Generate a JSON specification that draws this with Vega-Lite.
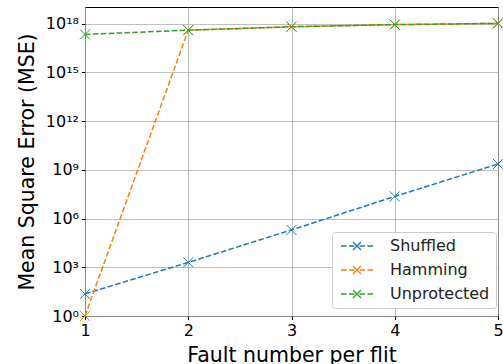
{
  "$schema": "https://vega.github.io/schema/vega-lite/v6.json",
  "width": 413,
  "height": 309,
  "autosize": {"type": "none"},
  "padding": {"left": 85, "top": 7, "right": 5, "bottom": 48},
  "background": "white",
  "config": {
    "font": "DejaVu Sans",
    "view": {"stroke": "black", "strokeWidth": 1},
    "axis": {
      "gridColor": "#b0b0b0",
      "gridWidth": 0.8,
      "domain": false,
      "tickColor": "black",
      "tickSize": 3.5,
      "labelColor": "black",
      "titleColor": "black",
      "labelFontSize": 16,
      "titleFontSize": 20.5,
      "titleFontWeight": "normal",
      "labelFont": "DejaVu Sans",
      "titleFont": "DejaVu Sans"
    }
  },
  "data": {
    "values": [
      {"x": 1, "y": 23, "s": "Shuffled"},
      {"x": 2, "y": 2000, "s": "Shuffled"},
      {"x": 3, "y": 200000, "s": "Shuffled"},
      {"x": 4, "y": 23000000, "s": "Shuffled"},
      {"x": 5, "y": 2300000000, "s": "Shuffled"},
      {"x": 1, "y": 1, "s": "Hamming"},
      {"x": 2, "y": 4e17, "s": "Hamming"},
      {"x": 3, "y": 6.5e17, "s": "Hamming"},
      {"x": 4, "y": 8.8e17, "s": "Hamming"},
      {"x": 5, "y": 1.05e18, "s": "Hamming"},
      {"x": 1, "y": 2.2e17, "s": "Unprotected"},
      {"x": 2, "y": 4e17, "s": "Unprotected"},
      {"x": 3, "y": 6.5e17, "s": "Unprotected"},
      {"x": 4, "y": 8.8e17, "s": "Unprotected"},
      {"x": 5, "y": 1.05e18, "s": "Unprotected"}
    ]
  },
  "encoding": {
    "x": {
      "field": "x", "type": "quantitative",
      "scale": {"domain": [1, 5], "nice": false, "zero": false},
      "axis": {"values": [1, 2, 3, 4, 5], "format": "d", "title": "Fault number per flit", "titlePadding": 7, "labelPadding": 3, "labelFlush": false}
    },
    "y": {
      "field": "y", "type": "quantitative",
      "scale": {"type": "log", "domain": [1, 1.07e19], "nice": false},
      "axis": {
        "values": [1, 1e3, 1e6, 1e9, 1e12, 1e15, 1e18],
        "labelExpr": "'10' + ['⁰','','','³','','','⁶','','','⁹','','','¹²','','','¹⁵','','','¹⁸'][round(log(datum.value)/LN10)]",
        "title": "Mean Square Error (MSE)",
        "labelPadding": 3,
        "titlePadding": 8,
        "labelFlush": false
      }
    },
    "color": {
      "field": "s", "type": "nominal",
      "scale": {"domain": ["Shuffled", "Hamming", "Unprotected"], "range": ["#1f77b4", "#ff7f0e", "#2ca02c"]},
      "legend": {
        "title": null,
        "orient": "none",
        "legendX": 247,
        "legendY": 225,
        "symbolType": "M-1,0L0.1,0M0.6,0L1.7,0M2.7,0L3.8,0M4.3,0L5.4,0M1.4,-0.8L3,0.8M1.4,0.8L3,-0.8",
        "symbolSize": 100,
        "symbolStrokeWidth": 1.3,
        "symbolFillColor": "transparent",
        "labelFontSize": 16,
        "labelFont": "DejaVu Sans",
        "labelColor": "#222",
        "labelOffset": 36,
        "rowPadding": 8,
        "padding": 6,
        "strokeColor": "#cccccc",
        "fillColor": "white",
        "cornerRadius": 3
      }
    }
  },
  "layer": [
    {"mark": {"type": "line", "strokeWidth": 1.5, "strokeDash": [5.5, 2.4]}},
    {"mark": {"type": "point", "shape": "M-1,-1L1,1M-1,1L1,-1", "filled": false, "size": 100, "strokeWidth": 1, "opacity": 1}}
  ]
}
